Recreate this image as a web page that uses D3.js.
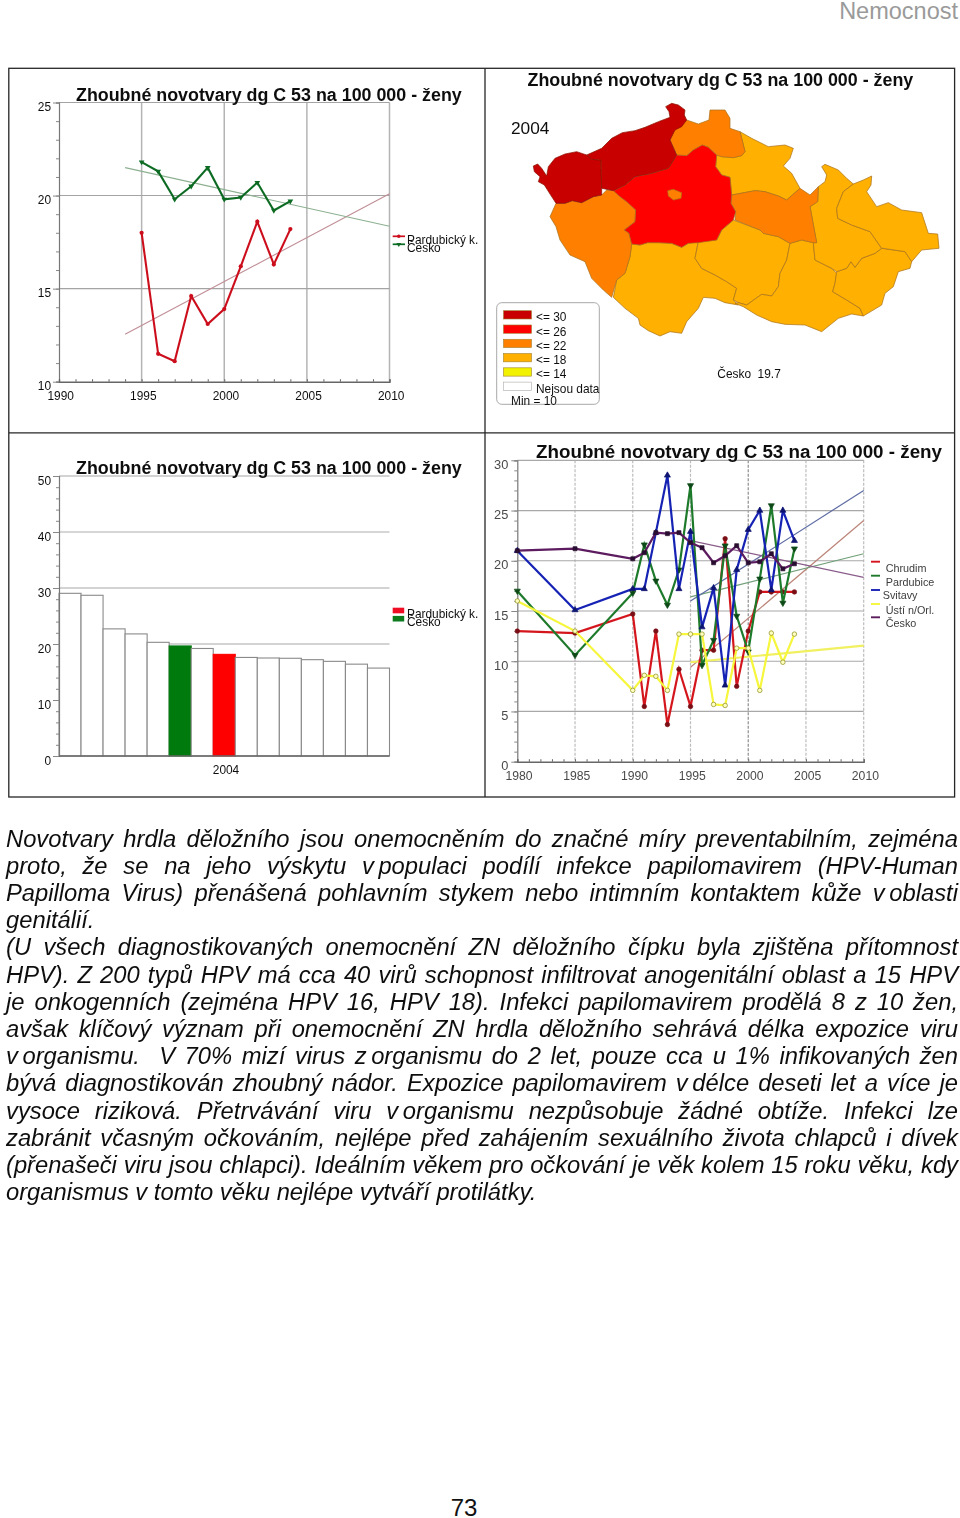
<!DOCTYPE html>
<html lang="cs">
<head>
<meta charset="utf-8">
<title>Zhoubné novotvary dg C 53</title>
<script src="https://cdn.jsdelivr.net/npm/d3@7"></script>
<style>
html,body{margin:0;padding:0;background:#fff;}
svg{display:block;}
text{font-family:"Liberation Sans",Arial,sans-serif;fill:#111;}
</style>
</head>
<body>
<svg id="page" width="960" height="1518" viewBox="0 0 960 1518"></svg>
<script>
// ---------- values ----------
const chartTitle = "Zhoubné novotvary dg C 53 na 100 000 - ženy";
const trendYears = [1995,1996,1997,1998,1999,2000,2001,2002,2003,2004];
const krajValues = [18,11.5,11.1,14.6,13.1,13.9,16.2,18.6,16.3,18.2];
const ceskoValues = [21.8,21.3,19.8,20.5,21.5,19.8,19.9,20.7,19.2,19.7];
const krajTrend = [[1994,12.55],[2010,20.1]];
const ceskoTrend = [[1994,21.5],[2010,18.35]];

const barValues = [29.05,28.7,22.7,21.8,20.3,19.65,19.2,18.15,17.6,17.5,17.45,17.2,16.9,16.4,15.7];
const barKinds  = ["o","o","o","o","o","cz","o","kraj","o","o","o","o","o","o","o"];

const okresYears = [1980,1985,1990,1991,1992,1993,1994,1995,1996,1997,1998,1999,2000,2001,2002,2003,2004];
const chrudim   = [13,12.8,14.7,5.5,13,3.7,9.2,5.5,11.1,11.1,22.2,7.5,13,16.9,16.9,16.9,16.9];
const pardubice = [17,10.6,16.8,21.6,18,15.6,19.1,27.5,9.6,12.1,21.5,14.5,10.95,18.2,25.5,15.8,21.2];
const svitavy   = [21,15.1,17.2,17.2,22.8,28.5,17.2,22.9,13.4,17.3,7.6,19.1,23.1,25,17.1,25,22];
const ustiNOrl  = [16,13,7.1,8.6,8.5,7.1,12.7,12.7,12.7,5.7,5.6,11.3,11.3,7.1,12.8,9.9,12.7];
const ceskoLong = [21,21.2,20.2,20.8,22.8,22.7,22.8,21.8,21.3,19.8,20.5,21.5,19.8,19.9,20.7,19.2,19.7];
const trendChrudim   = [[1995,9.4],[2010,24]];
const trendPardubice = [[1995,16.4],[2010,20.7]];
const trendSvitavy   = [[1995,16],[2010,27]];
const trendUsti      = [[1995,9.9],[2010,11.55]];
const trendCesko     = [[1995,22],[2010,18.35]];
const okresNames = ["Chrudim","Pardubice","Svitavy","Ústí n/Orl.","Česko"];

const mapLegendLabels = ["<= 30","<= 26","<= 22","<= 18","<= 14","Nejsou data"];
const mapLegendColors = ["#c80000","#ff0000","#ff8000","#ffb000","#f2f200","#ffffff"];

const karlovarsky = [[145,318],[158,312],[170,325],[185,348],[190,320],[210,295],[240,282],[275,275],[305,285],[320,298],[348,300],[350,385],[350,405],[325,410],[290,428],[262,422],[240,430],[213,430],[195,402],[178,375],[160,365],[165,350],[148,335]];
const ustecky = [[305,285],[350,265],[380,235],[412,218],[450,212],[480,202],[520,185],[555,172],[552,155],[542,140],[560,130],[580,135],[600,150],[598,165],[605,180],[590,200],[570,210],[555,240],[575,285],[560,310],[550,325],[500,340],[450,350],[420,375],[385,392],[350,385],[348,300],[320,298]];
const liberecky = [[570,205],[605,180],[640,192],[672,180],[675,150],[720,150],[735,175],[735,205],[765,215],[780,275],[770,287],[745,293],[710,290],[695,285],[670,262],[652,255],[625,270],[605,287],[575,285],[555,240]];
const stredocesky = [[385,392],[420,375],[450,350],[500,340],[550,325],[575,285],[605,287],[625,270],[652,255],[670,262],[695,285],[692,320],[710,345],[735,352],[740,405],[738,430],[752,455],[745,480],[710,510],[695,540],[640,548],[610,550],[590,562],[560,550],[520,548],[488,548],[465,555],[440,552],[432,520],[418,510],[450,485],[452,450],[425,425],[405,410]];
const praha = [[548,392],[565,388],[590,398],[588,415],[565,420],[550,408]];
const plzensky = [[213,430],[240,430],[262,422],[290,428],[325,410],[350,405],[365,390],[385,392],[405,410],[425,425],[452,450],[450,485],[418,510],[432,520],[440,552],[435,590],[420,640],[395,660],[380,712],[355,690],[320,655],[300,605],[255,585],[225,540],[213,500],[195,470]];
const kralovehradecky = [[765,215],[800,235],[850,260],[900,255],[925,265],[915,295],[895,318],[920,340],[945,385],[905,420],[880,408],[840,395],[810,392],[740,405],[735,352],[710,345],[692,320],[695,285],[710,290],[745,293],[770,287],[780,275]];
const pardubicky = [[740,405],[810,392],[840,395],[880,408],[905,420],[945,385],[975,405],[1000,380],[998,425],[975,440],[995,548],[985,548],[950,540],[915,550],[880,530],[835,520],[825,510],[750,480],[752,455],[738,430]];
const jihocesky = [[440,552],[465,555],[488,548],[520,548],[560,550],[590,562],[610,550],[640,545],[630,595],[650,625],[690,645],[725,665],[755,685],[745,720],[760,735],[720,728],[690,715],[655,712],[640,745],[605,785],[590,820],[555,815],[525,828],[490,812],[465,795],[460,775],[420,745],[385,712],[395,660],[420,640],[435,590]];
const vysocina = [[640,545],[695,540],[710,510],[745,480],[825,510],[835,520],[880,530],[915,550],[905,600],[885,640],[880,680],[860,708],[830,703],[785,735],[760,728],[745,720],[755,685],[725,665],[690,645],[650,625],[630,595]];
const jihomoravsky = [[915,550],[950,540],[985,548],[990,600],[1040,625],[1055,640],[1050,670],[1043,695],[1085,720],[1125,745],[1135,768],[1100,762],[1060,775],[1010,815],[960,795],[900,793],[860,785],[815,765],[775,740],[750,730],[760,728],[785,735],[830,703],[860,708],[880,680],[885,640],[905,600]];
const olomoucky = [[975,440],[998,425],[1000,380],[1020,365],[1025,345],[1010,320],[1020,313],[1060,330],[1085,355],[1105,372],[1075,395],[1055,445],[1058,475],[1100,495],[1155,515],[1190,565],[1170,580],[1130,595],[1110,622],[1098,605],[1085,625],[1055,635],[1040,625],[990,600],[985,548],[995,548]];
const moravskoslezsky = [[1105,372],[1135,360],[1160,348],[1158,375],[1145,395],[1175,440],[1210,428],[1250,450],[1310,458],[1330,520],[1358,522],[1362,565],[1310,570],[1280,605],[1260,575],[1195,565],[1190,565],[1155,515],[1100,495],[1058,475],[1055,445],[1075,395]];
const zlinsky = [[1055,635],[1085,625],[1098,605],[1110,622],[1130,595],[1170,580],[1190,565],[1260,575],[1280,605],[1275,625],[1240,635],[1225,680],[1200,700],[1190,735],[1135,768],[1125,745],[1085,720],[1043,695],[1050,670]];
const mapRegions = [
  [jihocesky,3],[vysocina,3],[jihomoravsky,3],[zlinsky,3],[olomoucky,3],[moravskoslezsky,3],[kralovehradecky,3],
  [pardubicky,2],[plzensky,2],[liberecky,2],[stredocesky,1],[praha,2],[karlovarsky,0],[ustecky,0]
];

const bodyLines = [
 "Novotvary hrdla děložního jsou onemocněním do značné míry preventabilním, zejména",
 "proto, že se na jeho výskytu v\u00a0populaci podílí infekce papilomavirem (HPV-Human",
 "Papilloma Virus) přenášená pohlavním stykem nebo intimním kontaktem kůže v\u00a0oblasti",
 "genitálií.",
 "(U všech diagnostikovaných onemocnění ZN děložního čípku byla zjištěna přítomnost",
 "HPV). Z 200 typů HPV má cca 40 virů schopnost infiltrovat anogenitální oblast a 15 HPV",
 "je onkogenních (zejména HPV 16, HPV 18). Infekci papilomavirem prodělá 8 z 10 žen,",
 "avšak klíčový význam při onemocnění ZN hrdla děložního sehrává délka expozice viru",
 "v\u00a0organismu.  V 70% mizí virus z\u00a0organismu do 2 let, pouze cca u 1% infikovaných žen",
 "bývá diagnostikován zhoubný nádor. Expozice papilomavirem v\u00a0délce deseti let a více je",
 "vysoce riziková. Přetrvávání viru v\u00a0organismu nezpůsobuje žádné obtíže. Infekci lze",
 "zabránit včasným očkováním, nejlépe před zahájením sexuálního života chlapců i dívek",
 "(přenašeči viru jsou chlapci). Ideálním věkem pro očkování je věk kolem 15 roku věku, kdy",
 "organismus v tomto věku nejlépe vytváří protilátky."
];
const unjustified = [3, 13];

// ---------- drawing ----------
const svg = d3.select("#page");
const defs = svg.append("defs");
[["soft",0.3],["softer",0.45]].forEach(([id,s])=>{
  defs.append("filter").attr("id",id).attr("filterUnits","userSpaceOnUse").attr("x",0).attr("y",0).attr("width",960).attr("height",1518)
    .append("feGaussianBlur").attr("stdDeviation",s);
});

// header & footer
svg.append("text").attr("x",958).attr("y",19).attr("text-anchor","end").attr("font-size",23.5).style("fill","#9a9a9a").text("Nemocnost");
svg.append("text").attr("x",464).attr("y",1515.5).attr("text-anchor","middle").attr("font-size",24).text("73");

const charts = svg.append("g").attr("filter","url(#soft)");

// frame
const frameX = d3.scaleOrdinal(["l","m","r"],[8.8,485,954.6]);
const frameY = d3.scaleOrdinal(["t","m","b"],[68.3,432.8,797]);
const frame = charts.append("g").attr("fill","none").attr("stroke","#262626").attr("stroke-width",1.3);
frame.append("rect").attr("x",frameX("l")).attr("y",frameY("t")).attr("width",frameX("r")-frameX("l")).attr("height",frameY("b")-frameY("t"));
frame.append("line").attr("x1",frameX("m")).attr("x2",frameX("m")).attr("y1",frameY("t")).attr("y2",frameY("b"));
frame.append("line").attr("x1",frameX("l")).attr("x2",frameX("r")).attr("y1",frameY("m")).attr("y2",frameY("m"));

const title = (g,x,y,size)=>g.append("text").attr("x",x).attr("y",y).attr("font-size",size).attr("font-weight","bold").text(chartTitle);
const seq = (a,b,s)=>d3.range(a,b+s/2,s);

function yAxis(g,y,x0,majors,minors,opt={}){
  const col=opt.color||"#111", fs=opt.fs||11.9, dy=opt.dy===undefined?4:opt.dy;
  const ax=g.append("g").attr("transform",`translate(${x0},0)`);
  ax.call(d3.axisLeft(y).tickValues(minors).tickSize(3).tickFormat(""));
  const mj=g.append("g").attr("transform",`translate(${x0},0)`);
  mj.call(d3.axisLeft(y).tickValues(majors).tickSize(6).tickPadding(opt.pad||2));
  mj.select(".domain").remove();
  mj.selectAll("text").attr("font-size",fs).attr("dy",null).attr("y",dy+4).attr("font-family",null).style("fill",col);
  [ax,mj].forEach(a=>{a.selectAll(".domain").attr("stroke","#777").attr("stroke-width",1.2);a.selectAll("line").attr("stroke","#888");});
}
function xAxis(g,x,y0,majors,minors,opt={}){
  const col=opt.color||"#111", fs=opt.fs||11.9;
  const ax=g.append("g").attr("transform",`translate(0,${y0})`);
  ax.call(d3.axisBottom(x).tickValues(minors).tickSize(-2.5).tickFormat(""));
  const mj=g.append("g").attr("transform",`translate(0,${y0})`);
  mj.call(d3.axisBottom(x).tickValues(majors).tickSize(0).tickFormat(d3.format("d")));
  mj.select(".domain").remove();
  mj.selectAll("text").attr("font-size",fs).attr("x",1.2).attr("y",opt.ly||8).attr("dy","0.71em").style("fill",col);
  ax.selectAll(".domain").attr("stroke","#666").attr("stroke-width",1.4);
  ax.selectAll("line").attr("stroke","#666");
}
const symbolPath=(type,size)=>d3.symbol().type(type).size(size)();

// ---- chart 1: trend ----
{
  const g=charts.append("g");
  const x=d3.scaleLinear([1990,2010],[59,389.5]);
  const y=d3.scaleLinear([10,25],[381.7,102.5]);
  g.append("g").selectAll("line").data(seq(1995,2010,5)).join("line")
    .attr("x1",x).attr("x2",x).attr("y1",y(25)).attr("y2",y(10)).attr("stroke","#b4b4b4").attr("stroke-width",1.5);
  g.append("g").selectAll("line").data(seq(15,25,5)).join("line")
    .attr("x1",x(1990)).attr("x2",x(2010)).attr("y1",y).attr("y2",y).attr("stroke","#a4a4a4").attr("stroke-width",1.1);
  title(g,76,100.7,17.85);
  yAxis(g,y,59,seq(10,25,5),seq(10,25,1));
  xAxis(g,x,381.7,seq(1990,2010,5),seq(1990,2010,1),{ly:9.5});
  const line=d3.line().x(d=>x(d[0])).y(d=>y(d[1]));
  g.append("path").attr("d",line(krajTrend)).attr("fill","none").attr("stroke","#c08e96").attr("stroke-width",1.1);
  g.append("path").attr("d",line(ceskoTrend)).attr("fill","none").attr("stroke","#8cb090").attr("stroke-width",1.1);
  [[krajValues,"#cc0f1c",d3.symbolCircle,0],[ceskoValues,"#0b6b22",d3.symbolTriangle,180]].forEach(([vals,c,sym,rot])=>{
    const pts=trendYears.map((yr,i)=>[yr,vals[i]]);
    g.append("path").attr("d",line(pts)).attr("fill","none").attr("stroke",c).attr("stroke-width",2.1);
    g.append("g").selectAll("path").data(pts).join("path").attr("d",symbolPath(sym,14))
      .attr("transform",d=>`translate(${x(d[0])},${y(d[1])}) rotate(${rot})`).attr("fill",c);
  });
  const lg=[["Pardubický k.","#cc0f1c",d3.symbolCircle,0],["Česko","#0b6b22",d3.symbolTriangle,180]];
  lg.forEach((d,i)=>{
    const ly=236.3+i*8;
    g.append("line").attr("x1",392.7).attr("x2",405).attr("y1",ly).attr("y2",ly).attr("stroke",d[1]).attr("stroke-width",1.7);
    g.append("path").attr("d",symbolPath(d[2],10)).attr("transform",`translate(398.8,${ly}) rotate(${d[3]})`).attr("fill",d[1]);
    g.append("text").attr("x",407).attr("y",244+i*8).attr("font-size",11.9).text(d[0]);
  });
}

// ---- chart 2: bars ----
{
  const g=charts.append("g");
  const x=d3.scaleBand(d3.range(barValues.length),[59,389.5]);
  const y=d3.scaleLinear([0,50],[756,476]);
  g.append("g").selectAll("line").data(seq(20,50,10)).join("line")
    .attr("x1",59).attr("x2",389.5).attr("y1",y).attr("y2",y).attr("stroke",d=>d===40?"#c8c8c8":"#a8a8a8").attr("stroke-width",d=>d===40?1.7:1.1);
  title(g,76,474.3,17.85);
  const fillOf={o:"#ffffff",cz:"#007a0c",kraj:"#ff0000"};
  g.append("g").selectAll("rect").data(barValues).join("rect")
    .attr("x",(d,i)=>x(i)).attr("width",x.bandwidth()).attr("y",d=>y(d)).attr("height",d=>y(0)-y(d))
    .attr("fill",(d,i)=>fillOf[barKinds[i]]).attr("stroke",(d,i)=>barKinds[i]==="o"?"#8a8a8a":fillOf[barKinds[i]]).attr("stroke-width",1.1);
  yAxis(g,y,59,seq(0,50,10),seq(0,50,2));
  g.append("line").attr("x1",59).attr("x2",389.5).attr("y1",y(0)).attr("y2",y(0)).attr("stroke","#666").attr("stroke-width",1.4);
  g.append("text").attr("x",226).attr("y",773.5).attr("text-anchor","middle").attr("font-size",11.9).text("2004");
  [["Pardubický k.","#ee1122"],["Česko","#0a7a1e"]].forEach((d,i)=>{
    g.append("rect").attr("x",392.7).attr("width",11.5).attr("y",607.7+i*8.2).attr("height",5.6).attr("fill",d[1]);
    g.append("text").attr("x",407).attr("y",617.7+i*8).attr("font-size",11.9).text(d[0]);
  });
}

// ---- map ----
{
  const g=charts.append("g");
  title(g,527.5,86,17.85);
  g.append("text").attr("x",511).attr("y",134).attr("font-size",17.3).text("2004");
  const mx=d3.scaleLinear([0,1425],[485,960]);
  const my=d3.scaleLinear([0,1125],[60,435]);
  const outline=d3.line().x(d=>mx(d[0])).y(d=>my(d[1])).curve(d3.curveLinearClosed);
  g.append("g").selectAll("path").data(mapRegions).join("path")
    .attr("d",d=>outline(d[0])).attr("fill",d=>mapLegendColors[d[1]])
    .attr("stroke",d=>d[1]===0?"#8a1408":"#a8701a").attr("stroke-width",0.7).attr("stroke-linejoin","round");
  g.append("rect").attr("x",496.7).attr("y",302.7).attr("width",102.6).attr("height",101.6).attr("rx",5)
    .attr("fill","#fff").attr("stroke","#a8a8a8").attr("stroke-width",1);
  mapLegendColors.forEach((c,i)=>{
    g.append("rect").attr("x",503.5).attr("y",310.7+i*14.28).attr("width",28).attr("height",8.3)
      .attr("fill",c).attr("stroke",i===5?"#aaa":"#a08030").attr("stroke-width",0.6);
    g.append("text").attr("x",536).attr("y",321.3+i*14.28).attr("font-size",11.9).text(mapLegendLabels[i]);
  });
  g.append("text").attr("x",511).attr("y",404.8).attr("font-size",11.9).text("Min = 10");
  g.append("text").attr("x",717.3).attr("y",377.7).attr("font-size",11.9).text("Česko  19.7").attr("xml:space","preserve");
}

// ---- chart 3: districts ----
{
  const g=svg.append("g").attr("filter","url(#softer)");
  const x=d3.scaleLinear([1980,2010],[517.3,863.7]);
  const y=d3.scaleLinear([0,30],[761.7,460.3]);
  g.append("g").selectAll("line").data(seq(1985,2010,5)).join("line")
    .attr("x1",x).attr("x2",x).attr("y1",y(30)).attr("y2",y(0))
    .attr("stroke",d=>d===2000?"#8e8e8e":"#bcbcbc").attr("stroke-width",1.2).attr("stroke-dasharray","3 1.5");
  g.append("g").selectAll("line").data(seq(5,30,5)).join("line")
    .attr("x1",x(1980)).attr("x2",x(2010)).attr("y1",y).attr("y2",y).attr("stroke","#a8a8a8").attr("stroke-width",1.2);
  yAxis(g,y,517.3,seq(0,30,5),seq(0,30,1),{color:"#4a4a4a",fs:12.8,dy:4,pad:3});
  xAxis(g,x,761.7,seq(1980,2010,5),seq(1980,2010,1),{color:"#4a4a4a",fs:12.2,ly:9.5});
  title(g,536,458,18.8);
  const line=d3.line().x(d=>x(d[0])).y(d=>y(d[1]));
  const trends=[[trendChrudim,"#bc8478"],[trendPardubice,"#72a07a"],[trendSvitavy,"#5e6ca4"],[trendUsti,"#f0f060"],[trendCesko,"#8a5c8a"]];
  trends.forEach(([t,c],i)=>g.append("path").attr("d",line(t)).attr("fill","none").attr("stroke",c).attr("stroke-width",i===3?2.2:1.2));
  const series=[
    [chrudim,"#d4171e","#7a1014",d3.symbolCircle,0,"#7a1014"],
    [pardubice,"#1f7a2c","#0c4a16",d3.symbolTriangle,180,"#0c4a16"],
    [svitavy,"#1422b4","#0a1270",d3.symbolTriangle,0,"#0a1270"],
    [ustiNOrl,"#f6f63c","#8a8a1a",d3.symbolCircle,0,"#ffffc0"],
    [ceskoLong,"#5c1a5e","#2a1030",d3.symbolSquare,0,"#2a1030"]
  ];
  series.forEach(([vals,c,mk,sym,rot,mf])=>{
    const pts=okresYears.map((yr,i)=>[yr,vals[i]]);
    g.append("path").attr("d",line(pts)).attr("fill","none").attr("stroke",c).attr("stroke-width",2.2);
    g.append("g").selectAll("path").data(pts).join("path").attr("d",symbolPath(sym,16))
      .attr("transform",d=>`translate(${x(d[0])},${y(d[1])}) rotate(${rot})`).attr("fill",mf).attr("stroke",mk).attr("stroke-width",0.7);
  });
  const lgY=[561.7,575.7,590,604,617.3], lgT=[572.3,586,599.3,613.7,627], lgX=[885.7,885.7,882.7,885.7,885.7];
  okresNames.forEach((n,i)=>{
    g.append("line").attr("x1",871).attr("x2",880).attr("y1",lgY[i]).attr("y2",lgY[i]).attr("stroke",series[i][1]).attr("stroke-width",1.9);
    g.append("text").attr("x",lgX[i]).attr("y",lgT[i]).attr("font-size",10.8).style("fill","#3c3c3c").text(n);
  });
}

// ---- body text, justified word by word ----
{
  const g=svg.append("g").attr("filter","url(#soft)");
  const left=6, right=958, fs=23.75, base=846.7, step=27.18;
  const line=d3.scaleLinear([0,1],[base,base+step]);
  bodyLines.forEach((s,i)=>{
    const t=g.append("text").attr("y",line(i)).attr("font-size",fs).attr("font-style","italic").attr("xml:space","preserve");
    const tokens=s.split(" ");
    const spans=tokens.map(w=>{
      const sp=t.append("tspan").text(w);
      if(w.includes("\u00a0")) sp.style("word-spacing","-2px");
      return sp;
    });
    const widths=spans.map(sp=>sp.node().getComputedTextLength());
    const total=d3.sum(widths);
    const gap=unjustified.includes(i)?fs*0.278:(right-left-total)/(tokens.length-1);
    let cx=left;
    spans.forEach((sp,k)=>{sp.attr("x",cx);cx+=widths[k]+gap;});
  });
}
</script>
</body>
</html>
